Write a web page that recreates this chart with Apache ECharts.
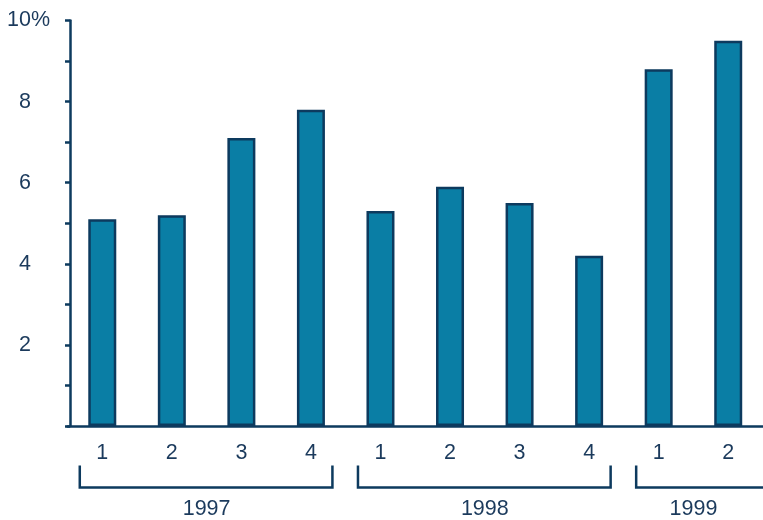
<!DOCTYPE html>
<html>
<head>
<meta charset="utf-8">
<script src="https://cdn.jsdelivr.net/npm/echarts@6/dist/echarts.min.js"></script>
<style>
  html, body { margin: 0; padding: 0; background: #fff; }
  #chart { width: 763px; height: 520px; }
</style>
</head>
<body>
<div id="chart"></div>
<script>
// Quarterly values (percent)
const quarters = ['1', '2', '3', '4', '1', '2', '3', '4', '1', '2'];
const values = [5.1, 5.2, 7.1, 7.8, 5.3, 5.9, 5.5, 4.2, 8.8, 9.5];
// Year groups: label, first and last quarter index
const years = ['1997', '1998', '1999'];
const yearStart = [0, 4, 8];
const yearEnd = [3, 7, 9];

const NAVY = '#0d3a5e';
const TEXT = '#1b3a5c';
const FILL = '#0a7ea5';
const FONT = '"Liberation Sans", Arial, sans-serif';
const FS = 21.5;

const chart = echarts.init(document.getElementById('chart'), null, { renderer: 'canvas' });

const option = {
  animation: false,
  grid: { left: 67.5, top: 20.5, width: 699.5, height: 405.5, containLabel: false },
  xAxis: {
    type: 'category',
    data: quarters,
    boundaryGap: true,
    axisLine: { lineStyle: { color: NAVY, width: 2.5 } },
    axisTick: { show: false },
    axisLabel: { color: TEXT, fontSize: FS, fontFamily: FONT, margin: 16 },
    splitLine: { show: false }
  },
  yAxis: {
    type: 'value',
    min: 0, max: 10, interval: 2,
    offset: -2.5,
    axisLine: { show: true, lineStyle: { color: NAVY, width: 2.5 } },
    axisTick: { show: true, length: 5, lineStyle: { color: NAVY, width: 2.5 } },
    minorTick: { show: true, splitNumber: 2, length: 5, lineStyle: { color: NAVY, width: 2.5 } },
    splitLine: { show: false },
    axisLabel: {
      color: TEXT, fontSize: FS, fontFamily: FONT, margin: 20,
      // numbers stay right-aligned; the unit sign hangs past them on the top label
      formatter: v => v === 0 ? '' : (v === 10 ? v + '{p|%}' : v + '{h|%}'),
      rich: {
        p: { color: TEXT, fontSize: FS, fontFamily: FONT },
        h: { color: 'rgba(0,0,0,0)', fontSize: FS, fontFamily: FONT }
      }
    }
  },
  series: [{
    type: 'bar',
    data: values,
    barWidth: 28,
    itemStyle: { color: FILL, borderColor: NAVY, borderWidth: 2.5 }
  }]
};
chart.setOption(option);

// Year brackets and labels under the quarter labels
const elements = [];
years.forEach((yr, i) => {
  const x0 = chart.convertToPixel({ xAxisIndex: 0 }, yearStart[i]);
  const x1 = chart.convertToPixel({ xAxisIndex: 0 }, yearEnd[i]);
  const left = x0 - 22.5;
  const right = i === years.length - 1 ? 780 : x1 + 21.5;
  elements.push({
    type: 'polyline',
    silent: true,
    shape: { points: [[left, 465.5], [left, 487.5], [right, 487.5], [right, 465.5]] },
    style: { stroke: NAVY, lineWidth: 2.5, fill: null }
  });
  elements.push({
    type: 'text',
    silent: true,
    x: (x0 + x1) / 2,
    y: 509,
    style: { text: yr, fill: TEXT, fontSize: FS, fontFamily: FONT, align: 'center', verticalAlign: 'middle' }
  });
});
chart.setOption({ graphic: { elements } });
</script>
</body>
</html>
